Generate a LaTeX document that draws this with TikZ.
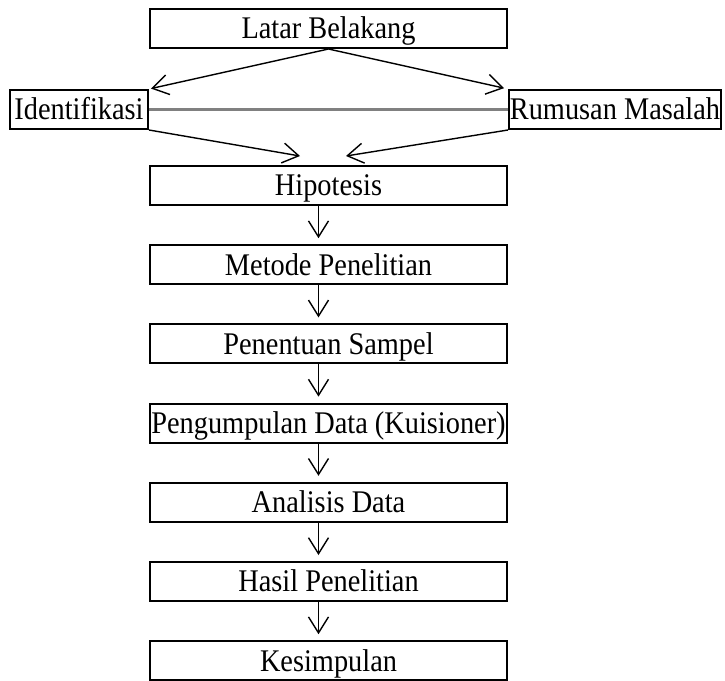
\documentclass[tikz,border=0pt]{standalone}
\usepackage{fontspec}
\setmainfont{Liberation Serif}[FakeStretch=0.9]
\usetikzlibrary{positioning,arrows.meta,calc}
\tikzset{
flowbox/.style={
draw,
line width=1pt,
minimum width=178.5pt,
minimum height=19.5pt,
inner sep=0pt,
text height=10.4pt,
text depth=0pt,
align=center,
font=\fontsize{15.75pt}{18pt}\selectfont
},
sidebox/.style={
flowbox,
minimum width=69pt
},
arrow/.style={
-{Straight Barb[length=8pt,width=10pt]},
line width=0.7pt
}
}

\begin{document}
\begin{tikzpicture}[node distance=19.1pt]
\useasboundingbox (0,0) rectangle (362.5pt,-340.5pt);
\node[flowbox](latar) at (164.25pt,-14.25pt){Latar Belakang};
\node[sidebox,below left=20pt and 0pt of latar.south west](iden){Identifikasi};
\node[sidebox,minimum width=106pt,below right=20pt and 0pt of latar.south east](rumusan){Rumusan Masalah};
\node[flowbox,below=58pt of latar](hipo){Hipotesis};
\node[flowbox,below=of hipo](metode){Metode Penelitian};
\node[flowbox,below=of metode](sampel){Penentuan Sampel};
\node[flowbox,below=of sampel](kumpul){Pengumpulan Data (Kuisioner)};
\node[flowbox,below=of kumpul](analisis){Analisis Data};
\node[flowbox,below=of analisis](hasil){Hasil Penelitian};
\node[flowbox,below=of hasil](simpul){Kesimpulan};

\coordinate(inL) at ($(hipo.north)+(-14.25pt,4.5pt)$);
\coordinate(inR) at ($(hipo.north)+(8.75pt,4.5pt)$);

\draw[gray,line width=1.3pt](iden)--(rumusan);
\draw[arrow,shorten >=1pt](latar.south)--(iden.north east);
\draw[arrow,shorten >=2pt](latar.south)--(rumusan.north west);
\draw[arrow](iden.south east)--(inL);
\draw[arrow](rumusan.south west)--(inR);

\draw[arrow,shorten >=3pt]([xshift=-5pt]hipo.south)--([xshift=-5pt]metode.north);
\draw[arrow,shorten >=3pt]([xshift=-5pt]metode.south)--([xshift=-5pt]sampel.north);
\draw[arrow,shorten >=3pt]([xshift=-5pt]sampel.south)--([xshift=-5pt]kumpul.north);
\draw[arrow,shorten >=3pt]([xshift=-5pt]kumpul.south)--([xshift=-5pt]analisis.north);
\draw[arrow,shorten >=3pt]([xshift=-5pt]analisis.south)--([xshift=-5pt]hasil.north);
\draw[arrow,shorten >=3pt]([xshift=-5pt]hasil.south)--([xshift=-5pt]simpul.north);
\end{tikzpicture}
\end{document}
